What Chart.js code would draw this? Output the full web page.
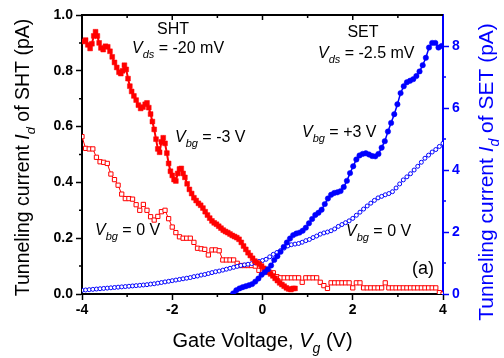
<!DOCTYPE html>
<html>
<head>
<meta charset="utf-8">
<script src="https://cdn.jsdelivr.net/npm/chart.js@4"></script>
<style>
  html, body { margin: 0; padding: 0; background: #fff; }
</style>
</head>
<body>
<canvas id="Chart" width="504" height="358"></canvas>
<script>
// SHT, Vbg = -3 V (filled red squares, left axis)
var shtX3 = [-3.97, -3.92, -3.87, -3.82, -3.78, -3.74, -3.70, -3.66, -3.62, -3.58, -3.53, -3.48, -3.43, -3.38, -3.33, -3.28, -3.23, -3.18, -3.14, -3.10,
  -3.06, -3.02, -2.98, -2.94, -2.90, -2.85, -2.80, -2.75, -2.70, -2.65, -2.60, -2.56, -2.52, -2.48, -2.44, -2.40, -2.36, -2.32, -2.28, -2.24,
  -2.20, -2.16, -2.12, -2.08, -2.04, -2.00, -1.96, -1.92, -1.88, -1.84, -1.80, -1.76, -1.72, -1.67, -1.62, -1.57, -1.52, -1.47, -1.42, -1.37,
  -1.32, -1.27, -1.22, -1.17, -1.12, -1.07, -1.02, -0.97, -0.92, -0.87, -0.82, -0.77, -0.72, -0.67, -0.62, -0.57, -0.52, -0.47, -0.42, -0.37,
  -0.32, -0.27, -0.22, -0.17, -0.12, -0.07, -0.02, 0.03, 0.08, 0.13, 0.18, 0.23, 0.28, 0.33, 0.38, 0.43, 0.48, 0.53, 0.58, 0.63, 0.68, 0.72];
var shtY3 = [0.905, 0.91, 0.893, 0.88, 0.897, 0.925, 0.94, 0.925, 0.9, 0.882, 0.876, 0.888, 0.886, 0.87, 0.85, 0.83, 0.812, 0.795, 0.79, 0.8,
  0.82, 0.805, 0.772, 0.745, 0.726, 0.71, 0.695, 0.677, 0.665, 0.67, 0.68, 0.685, 0.668, 0.645, 0.618, 0.59, 0.555, 0.52, 0.508, 0.545,
  0.56, 0.54, 0.505, 0.468, 0.44, 0.425, 0.41, 0.405, 0.432, 0.448, 0.45, 0.432, 0.418, 0.395, 0.375, 0.36, 0.345, 0.335, 0.325, 0.318,
  0.308, 0.295, 0.283, 0.272, 0.262, 0.255, 0.25, 0.243, 0.236, 0.229, 0.224, 0.22, 0.215, 0.21, 0.206, 0.202, 0.196, 0.185, 0.172, 0.16,
  0.148, 0.138, 0.128, 0.118, 0.112, 0.107, 0.1, 0.092, 0.085, 0.078, 0.072, 0.065, 0.056, 0.048, 0.04, 0.034, 0.028, 0.022, 0.018, 0.016, 0.02, 0.02];

// SHT, Vbg = 0 V (open red squares, left axis)
var shtX0 = [-4.00, -3.92, -3.84, -3.76, -3.68, -3.60, -3.52, -3.44, -3.36, -3.28, -3.20, -3.12, -3.04, -2.96, -2.88, -2.80, -2.72, -2.64, -2.56, -2.48,
  -2.40, -2.32, -2.24, -2.16, -2.08, -2.00, -1.92, -1.84, -1.76, -1.68, -1.60, -1.52, -1.44, -1.36, -1.28, -1.20, -1.12, -1.04, -0.96, -0.88,
  -0.80, -0.72, -0.64, -0.56, -0.48, -0.40, -0.32, -0.24, -0.16, -0.08, 0.00, 0.08, 0.16, 0.24, 0.32, 0.40, 0.48, 0.56, 0.64, 0.72,
  0.80, 0.88, 0.96, 1.04, 1.12, 1.20, 1.28, 1.36, 1.44, 1.52, 1.60, 1.68, 1.76, 1.84, 1.92, 2.00, 2.08, 2.16, 2.24, 2.32,
  2.40, 2.48, 2.56, 2.64, 2.72, 2.80, 2.88, 2.96, 3.04, 3.12, 3.20, 3.28, 3.36, 3.44, 3.52, 3.60, 3.68, 3.76, 3.84, 3.92, 4.00];
var shtY0 = [0.564, 0.522, 0.52, 0.52, 0.49, 0.474, 0.472, 0.468, 0.43, 0.41, 0.39, 0.358, 0.342, 0.342, 0.34, 0.32, 0.3, 0.321, 0.3, 0.277,
  0.265, 0.278, 0.295, 0.3, 0.27, 0.24, 0.22, 0.205, 0.2, 0.2, 0.2, 0.185, 0.164, 0.162, 0.16, 0.14, 0.158, 0.158, 0.155, 0.122,
  0.122, 0.122, 0.122, 0.11, 0.102, 0.102, 0.102, 0.102, 0.1, 0.085, 0.086, 0.082, 0.078, 0.076, 0.062, 0.058, 0.058, 0.058, 0.058, 0.058,
  0.058, 0.042, 0.058, 0.058, 0.058, 0.058, 0.042, 0.03, 0.02, 0.04, 0.04, 0.04, 0.04, 0.04, 0.04, 0.022, 0.04, 0.04, 0.022, 0.022,
  0.022, 0.022, 0.022, 0.022, 0.04, 0.022, 0.022, 0.022, 0.022, 0.022, 0.022, 0.022, 0.022, 0.022, 0.022, 0.022, 0.022, 0.022, 0.022, 0.005, 0.0];

// SET, Vbg = +3 V (filled blue circles, right axis)
var setX3 = [-0.65, -0.58, -0.51, -0.44, -0.37, -0.30, -0.23, -0.16, -0.09, -0.02, 0.05, 0.12, 0.19, 0.26, 0.33, 0.40, 0.47, 0.54, 0.61, 0.68,
  0.75, 0.82, 0.89, 0.96, 1.03, 1.10, 1.17, 1.24, 1.31, 1.38, 1.45, 1.52, 1.59, 1.66, 1.73, 1.80, 1.87, 1.94, 2.01, 2.08,
  2.15, 2.22, 2.29, 2.36, 2.43, 2.50, 2.57, 2.64, 2.71, 2.78, 2.85, 2.92, 2.99, 3.06, 3.13, 3.20, 3.27, 3.34, 3.41, 3.48,
  3.55, 3.62, 3.69, 3.76, 3.83, 3.90, 3.97];
var setY3 = [0.02, 0.12, 0.18, 0.22, 0.25, 0.28, 0.32, 0.4, 0.5, 0.62, 0.7, 0.8, 0.92, 1.1, 1.22, 1.36, 1.52, 1.66, 1.79, 1.9,
  1.95, 1.98, 2.04, 2.14, 2.28, 2.42, 2.55, 2.62, 2.72, 2.9, 3.08, 3.2, 3.26, 3.28, 3.32, 3.45, 3.65, 3.9, 4.12, 4.34,
  4.47, 4.52, 4.54, 4.5, 4.45, 4.44, 4.52, 4.72, 4.93, 5.24, 5.52, 5.8, 6.12, 6.48, 6.7, 6.83, 6.88, 6.93, 7.03, 7.18,
  7.38, 7.62, 7.95, 8.1, 8.1, 7.95, 8.0];

// SET, Vbg = 0 V (open blue circles, right axis)
var setX0 = shtX0.slice();
var setY0 = [0.12, 0.13, 0.14, 0.15, 0.16, 0.17, 0.18, 0.19, 0.2, 0.21, 0.22, 0.23, 0.24, 0.25, 0.26, 0.27, 0.28, 0.29, 0.3, 0.32,
  0.33, 0.35, 0.37, 0.39, 0.41, 0.43, 0.45, 0.47, 0.49, 0.51, 0.53, 0.56, 0.58, 0.61, 0.63, 0.66, 0.69, 0.72, 0.74, 0.77,
  0.8, 0.83, 0.86, 0.89, 0.92, 0.94, 0.96, 0.98, 1.01, 1.05, 1.08, 1.12, 1.2, 1.28, 1.34, 1.4, 1.48, 1.55, 1.59, 1.61,
  1.63, 1.67, 1.72, 1.76, 1.82, 1.87, 1.93, 1.97, 2.0, 2.04, 2.1, 2.18, 2.24, 2.3, 2.36, 2.44, 2.54, 2.64, 2.74, 2.84,
  2.93, 3.02, 3.1, 3.15, 3.2, 3.24, 3.3, 3.42, 3.55, 3.68, 3.78, 3.88, 4.0, 4.12, 4.25, 4.38, 4.48, 4.58, 4.66, 4.76, 4.86];

// ticks
var xTicks = [-4, -2, 0, 2, 4];
var xMinor = [-3, -1, 1, 3];
var leftTicks = [0, 0.2, 0.4, 0.6, 0.8, 1.0];
var leftMinor = [0.1, 0.3, 0.5, 0.7, 0.9];
var rightTicks = [0, 2, 4, 6, 8];
var rightMinor = [1, 3, 5, 7];

var RED = '#ff0000', BLUE = '#0000ff';
var FAMILY = '"Liberation Sans", Arial, sans-serif';

function pts(xs, ys) {
  return xs.map(function (x, i) { return { x: x, y: ys[i] }; });
}

function fixTicks(list) {
  return function (scale) {
    scale.ticks = list.map(function (v) { return { value: v }; });
  };
}

// text with italic / subscript pieces: 'n' normal, 'i' italic, 's' italic subscript
function drawRich(ctx, parts, x, y, size, align) {
  function font(p) {
    if (p[1] === 's') return 'italic ' + Math.round(size * 0.68) + 'px ' + FAMILY;
    if (p[1] === 'i') return 'italic ' + size + 'px ' + FAMILY;
    return size + 'px ' + FAMILY;
  }
  var w = 0;
  parts.forEach(function (p) { ctx.font = font(p); w += ctx.measureText(p[0]).width; });
  var cx = align === 'center' ? x - w / 2 : x;
  ctx.textAlign = 'left';
  ctx.textBaseline = 'alphabetic';
  parts.forEach(function (p) {
    ctx.font = font(p);
    ctx.fillText(p[0], cx, y + (p[1] === 's' ? size * 0.3 : 0));
    cx += ctx.measureText(p[0]).width;
  });
}

var extras = {
  id: 'extras',
  afterDraw: function (chart) {
    var ctx = chart.ctx, a = chart.chartArea;
    var sx = chart.scales.x, sl = chart.scales.y, sr = chart.scales.y1;
    ctx.save();

    // top frame line with inward ticks
    ctx.strokeStyle = '#000';
    ctx.lineWidth = 2;
    ctx.beginPath();
    ctx.moveTo(a.left - 1, a.top);
    ctx.lineTo(a.right, a.top);
    ctx.stroke();

    ctx.lineWidth = 1.5;
    ctx.beginPath();
    xTicks.slice(1, -1).forEach(function (v) {
      var px = sx.getPixelForValue(v);
      ctx.moveTo(px, a.top); ctx.lineTo(px, a.top + 5);
    });
    xMinor.forEach(function (v) {
      var px = sx.getPixelForValue(v);
      ctx.moveTo(px, a.top); ctx.lineTo(px, a.top + 3);
      ctx.moveTo(px, a.bottom); ctx.lineTo(px, a.bottom + 3);
    });
    leftMinor.forEach(function (v) {
      var py = sl.getPixelForValue(v);
      ctx.moveTo(a.left, py); ctx.lineTo(a.left - 3, py);
    });
    ctx.stroke();

    ctx.strokeStyle = BLUE;
    ctx.beginPath();
    rightMinor.forEach(function (v) {
      var py = sr.getPixelForValue(v);
      ctx.moveTo(a.right, py); ctx.lineTo(a.right + 3, py);
    });
    ctx.stroke();

    // axis titles
    ctx.fillStyle = '#000';
    drawRich(ctx, [['Gate Voltage, ', 'n'], ['V', 'i'], ['g', 's'], [' (V)', 'n']], (a.left + a.right) / 2, 347, 20, 'center');

    ctx.save();
    ctx.translate(29, (a.top + a.bottom) / 2 + 3);
    ctx.rotate(-Math.PI / 2);
    drawRich(ctx, [['Tunneling current ', 'n'], ['I', 'i'], ['d', 's'], [' of SHT (pA)', 'n']], 0, 0, 19.5, 'center');
    ctx.restore();

    ctx.save();
    ctx.fillStyle = BLUE;
    ctx.translate(493, 172);
    ctx.rotate(-Math.PI / 2);
    drawRich(ctx, [['Tunneling current ', 'n'], ['I', 'i'], ['d', 's'], [' of SET (pA)', 'n']], 0, 0, 21, 'center');
    ctx.restore();

    // annotations
    drawRich(ctx, [['SHT', 'n']], 173, 34, 16, 'center');
    drawRich(ctx, [['V', 'i'], ['ds', 's'], [' = -20 mV', 'n']], 132, 53, 16, 'left');
    drawRich(ctx, [['V', 'i'], ['bg', 's'], [' = -3 V', 'n']], 175, 142, 16, 'left');
    drawRich(ctx, [['V', 'i'], ['bg', 's'], [' = 0 V', 'n']], 95, 235, 16, 'left');
    drawRich(ctx, [['SET', 'n']], 363, 37, 16, 'center');
    drawRich(ctx, [['V', 'i'], ['ds', 's'], [' = -2.5 mV', 'n']], 318, 58, 16, 'left');
    drawRich(ctx, [['V', 'i'], ['bg', 's'], [' = +3 V', 'n']], 302, 137, 16, 'left');
    drawRich(ctx, [['V', 'i'], ['bg', 's'], [' = 0 V', 'n']], 346, 236, 16, 'left');
    drawRich(ctx, [['(a)', 'n']], 412, 274, 18, 'left');

    ctx.restore();
  }
};

var tickFont = { family: FAMILY, size: 14, weight: 'bold' };

var ctx = document.getElementById('Chart').getContext('2d');
var myChart = new Chart(ctx, {
  type: 'scatter',
  data: {
    datasets: [{
      label: 'SET Vbg=+3V',
      data: pts(setX3, setY3),
      yAxisID: 'y1',
      showLine: true,
      borderColor: BLUE,
      borderWidth: 1.5,
      pointStyle: 'circle',
      pointRadius: 2.7,
      pointBackgroundColor: BLUE,
      pointBorderColor: BLUE,
      pointBorderWidth: 0.5
    }, {
      label: 'SHT Vbg=-3V',
      data: pts(shtX3, shtY3),
      yAxisID: 'y',
      showLine: true,
      borderColor: RED,
      borderWidth: 2,
      pointStyle: 'rect',
      pointRadius: 3.4,
      pointBackgroundColor: RED,
      pointBorderColor: RED,
      pointBorderWidth: 0.5
    }, {
      label: 'SET Vbg=0V',
      data: pts(setX0, setY0),
      yAxisID: 'y1',
      showLine: true,
      borderColor: BLUE,
      borderWidth: 1,
      pointStyle: 'circle',
      pointRadius: 2,
      pointBackgroundColor: '#ffffff',
      pointBorderColor: BLUE,
      pointBorderWidth: 1
    }, {
      label: 'SHT Vbg=0V',
      data: pts(shtX0, shtY0),
      yAxisID: 'y',
      showLine: true,
      borderColor: RED,
      borderWidth: 1,
      pointStyle: 'rect',
      pointRadius: 3,
      pointBackgroundColor: '#ffffff',
      pointBorderColor: RED,
      pointBorderWidth: 1
    }]
  },
  options: {
    responsive: false,
    animation: false,
    events: [],
    layout: { padding: { top: 15, left: 0, right: 0, bottom: 0 } },
    plugins: { legend: { display: false }, tooltip: { enabled: false } },
    scales: {
      x: {
        type: 'linear',
        position: 'bottom',
        min: -4, max: 4,
        afterBuildTicks: fixTicks(xTicks),
        afterFit: function (s) { s.height = 64; },
        ticks: { font: tickFont, color: '#000', padding: 2, maxRotation: 0 },
        grid: { drawOnChartArea: false, tickLength: 6, tickWidth: 1.5, tickColor: '#000' },
        border: { color: '#000', width: 2 }
      },
      y: {
        type: 'linear',
        position: 'left',
        min: 0, max: 1,
        afterBuildTicks: fixTicks(leftTicks),
        afterFit: function (s) { s.width = 82; },
        ticks: { font: tickFont, color: '#000', padding: 3, callback: function (v) { return v.toFixed(1); } },
        grid: { drawOnChartArea: false, tickLength: 6, tickWidth: 1.5, tickColor: '#000' },
        border: { color: '#000', width: 2 }
      },
      y1: {
        type: 'linear',
        position: 'right',
        min: 0, max: 9,
        afterBuildTicks: fixTicks(rightTicks),
        afterFit: function (s) { s.width = 61; },
        ticks: { font: tickFont, color: BLUE, padding: 3 },
        grid: { drawOnChartArea: false, tickLength: 6, tickWidth: 1.5, tickColor: BLUE },
        border: { color: BLUE, width: 2 }
      }
    }
  },
  plugins: [extras]
});
</script>
</body>
</html>
